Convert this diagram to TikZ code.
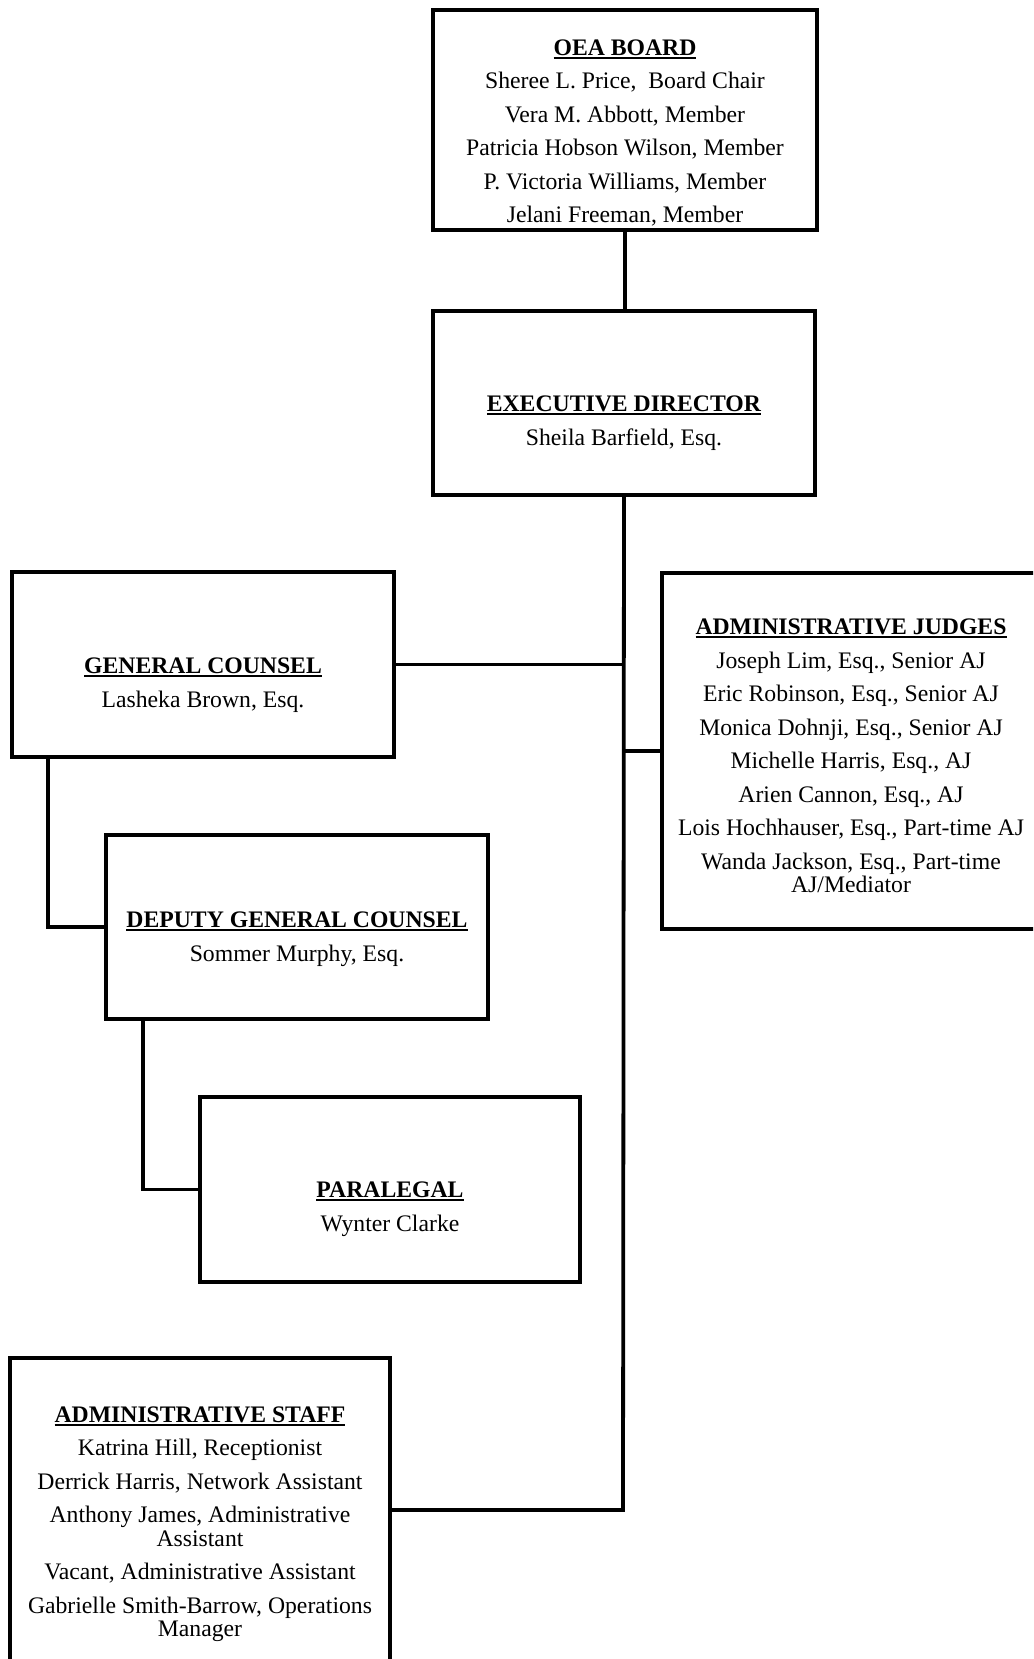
\documentclass[tikz,border=0pt]{standalone}
\usepackage{fontspec}
\setmainfont{Liberation Serif}
\newcommand{\hd}[1]{\sbox0{\textbf{#1}}\rlap{\rule[-3.4pt]{\wd0}{1.8pt}}\usebox0}

\begin{document}
\begin{tikzpicture}[x=1pt, y=-1pt,
    box/.style={draw, line width=3.8pt, inner sep=0pt},
    txt/.style={align=center, inner sep=0pt, font=\fontsize{23.7}{23.3}\selectfont},
    conn/.style={line width=3.8pt}]
        \useasboundingbox (0,0) rectangle (1033,1659);
        \clip (0,0) rectangle (1033,1659);

        \node[box, minimum width=384pt, minimum height=220pt] (board) at (625,120) {};
        \node[box, minimum width=382pt, minimum height=184pt] (exec) at (624,403) {};
        \node[box, minimum width=382pt, minimum height=185pt] (gc) at (203,664.5) {};
        \node[box, minimum width=382pt, minimum height=184pt] (dgc) at (297,927) {};
        \node[box, minimum width=380pt, minimum height=185pt] (para) at (390,1189.5) {};
        \node[box, minimum width=379pt, minimum height=356pt] (judges) at (851.5,751) {};
        \node[box, minimum width=380pt, minimum height=360pt] (staff) at (200,1538) {};

        \node[txt] (board-t) at (625,133) {\hd{OEA BOARD}\\[10.2pt]
            Sheree L. Price, \ Board Chair\\[10.2pt]
            Vera M. Abbott, Member\\[10.2pt]
            Patricia Hobson Wilson, Member\\[10.2pt]
            P. Victoria Williams, Member\\[10.2pt]
            Jelani Freeman, Member};
        \node[txt] (exec-t) at (624,423) {\hd{EXECUTIVE DIRECTOR}\\[10.2pt]
            Sheila Barfield, Esq.};
        \node[txt] (gc-t) at (203,685) {\hd{GENERAL COUNSEL}\\[10.2pt]
            Lasheka Brown, Esq.};
        \node[txt] (dgc-t) at (297,939) {\hd{DEPUTY GENERAL COUNSEL}\\[10.2pt]
            Sommer Murphy, Esq.};
        \node[txt] (para-t) at (390,1209) {\hd{PARALEGAL}\\[10.2pt]
            Wynter Clarke};
        \node[txt] (judges-t) at (851,756) {\hd{ADMINISTRATIVE JUDGES}\\[10.2pt]
            Joseph Lim, Esq., Senior AJ\\[10.2pt]
            Eric Robinson, Esq., Senior AJ\\[10.2pt]
            Monica Dohnji, Esq., Senior AJ\\[10.2pt]
            Michelle Harris, Esq., AJ\\[10.2pt]
            Arien Cannon, Esq., AJ\\[10.2pt]
            Lois Hochhauser, Esq., Part-time AJ\\[10.2pt]
            Wanda Jackson, Esq., Part-time\\
            AJ/Mediator};
        \node[txt] (staff-t) at (200,1524) {\hd{ADMINISTRATIVE STAFF}\\[10.2pt]
            Katrina Hill, Receptionist\\[10.2pt]
            Derrick Harris, Network Assistant\\[10.2pt]
            Anthony James, Administrative\\
            Assistant\\[10.2pt]
            Vacant, Administrative Assistant\\[10.2pt]
            Gabrielle Smith-Barrow, Operations\\
            Manager};

        \coordinate (trunk) at (623,1510);
        \draw[conn] (board.south) -- (board.south |- exec.north);
        \draw[conn] (exec.south) -- (trunk) -- (trunk -| staff.east);
        \draw[conn] (gc.east) -- (gc.east -| trunk);
        \draw[conn] (judges.west) -- (judges.west -| trunk);
        \draw[conn] ([xshift=38pt]gc.south west) |- (dgc.west);
        \draw[conn] ([xshift=39pt]dgc.south west) |- (para.west);
\end{tikzpicture}
\end{document}
